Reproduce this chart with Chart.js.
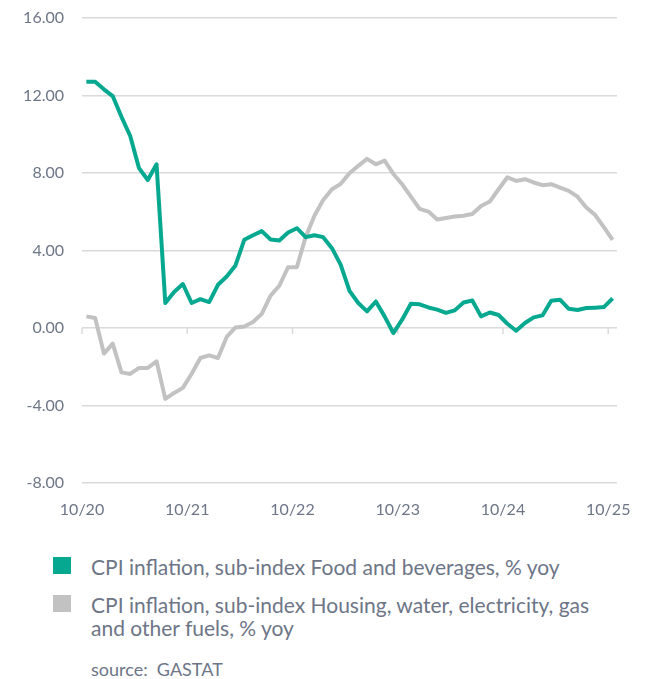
<!DOCTYPE html>
<html>
<head>
<meta charset="utf-8">
<script src="https://cdn.jsdelivr.net/npm/chart.js@4.4.1/dist/chart.umd.min.js"></script>
<style>
  body { margin: 0; background: #fff; font-family: Lato, "Open Sans", sans-serif; }
  #wrap { position: relative; width: 649px; height: 530px; }
  .legend { position: absolute; left: 0; top: 0; width: 649px; color: #6d7587; font-size: 21px; }
  .item { position: absolute; left: 91px; line-height: 23px; white-space: nowrap; }
  .box { position: absolute; left: -38px; top: 2px; width: 18px; height: 17px; }
  .source { position: absolute; left: 91px; top: 658px; font-size: 18px; color: #6d7587; }
</style>
</head>
<body>
<div id="wrap"><canvas id="chart"></canvas></div>
<div class="legend">
  <div class="item" style="top:555px"><span class="box" style="background:#06a990"></span>CPI inflation, sub-index Food and beverages, % yoy</div>
  <div class="item" style="top:593px"><span class="box" style="background:#c2c2c2"></span>CPI inflation, sub-index Housing, water, electricity, gas<br>and other fuels, % yoy</div>
</div>
<div class="source">source:&nbsp; GASTAT</div>
<script>
// monthly, 10/2020 .. 10/2025
var foodValues = [12.71, 12.71, 12.32, 11.97, 10.9, 9.91, 8.25, 7.64, 8.45, 1.29,
    1.86, 2.27, 1.29, 1.49, 1.34, 2.23, 2.66, 3.23, 4.55, 4.79,
    5.0, 4.57, 4.52, 4.93, 5.15, 4.69, 4.79, 4.69, 4.12, 3.26,
    1.92, 1.29, 0.86, 1.37, 0.6, -0.26, 0.43, 1.25, 1.22, 1.06,
    0.95, 0.78, 0.91, 1.32, 1.42, 0.6, 0.8, 0.67, 0.22, -0.14,
    0.26, 0.55, 0.65, 1.41, 1.46, 0.99, 0.93, 1.03, 1.05, 1.08, 1.53];
var housingValues = [0.6, 0.52, -1.32, -0.81, -2.29, -2.37, -2.06, -2.06, -1.72, -3.66,
    -3.35, -3.09, -2.36, -1.55, -1.41, -1.55, -0.46, 0.03, 0.08, 0.31,
    0.73, 1.67, 2.18, 3.14, 3.14, 4.69, 5.79, 6.61, 7.16, 7.44,
    7.99, 8.37, 8.73, 8.45, 8.64, 7.95, 7.42, 6.78, 6.15, 6.01,
    5.6, 5.68, 5.75, 5.79, 5.88, 6.3, 6.53, 7.16, 7.78, 7.59,
    7.68, 7.51, 7.37, 7.42, 7.25, 7.08, 6.78, 6.22, 5.84, 5.21, 4.55];
var tickLabels = ["10/20", "10/21", "10/22", "10/23", "10/24", "10/25"];
var yTicks = [-8, -4, 0, 4, 8, 12, 16];

var labelColor = "#6d7587";
var gridColor = "#dadada";

function toPoints(values) {
    // each month sits in the middle of its slot
    return values.map(function (v, i) { return { x: i + 0.5, y: v }; });
}

// small tick marks on the zero line
var zeroTicks = {
    id: "zeroTicks",
    beforeDatasetsDraw: function (chart) {
        var ctx = chart.ctx, xs = chart.scales.x, ys = chart.scales.y;
        var y0 = ys.getPixelForValue(0);
        ctx.save();
        ctx.strokeStyle = gridColor;
        ctx.lineWidth = 1.5;
        xs.ticks.forEach(function (t) {
            var px = xs.getPixelForValue(t.value);
            ctx.beginPath();
            ctx.moveTo(px, y0);
            ctx.lineTo(px, y0 + 6);
            ctx.stroke();
        });
        ctx.restore();
    }
};

var chart = new Chart(document.getElementById("chart"), {
    type: "line",
    data: {
        datasets: [{
            label: "CPI inflation, sub-index Food and beverages, % yoy",
            data: toPoints(foodValues),
            borderColor: "#06a990",
            borderWidth: 4,
            pointRadius: 0,
            tension: 0,
            borderJoinStyle: "round"
        }, {
            label: "CPI inflation, sub-index Housing, water, electricity, gas and other fuels, % yoy",
            data: toPoints(housingValues),
            borderColor: "#c2c2c2",
            borderWidth: 4,
            pointRadius: 0,
            tension: 0,
            borderJoinStyle: "round"
        }]
    },
    options: {
        animation: false,
        responsive: true,
        maintainAspectRatio: false,
        layout: { padding: { top: 18, right: 32, left: 0, bottom: 0 } },
        plugins: {
            legend: { display: false },
            tooltip: { enabled: false }
        },
        scales: {
            x: {
                type: "linear",
                min: 0,
                max: 61,
                grid: { display: false },
                border: { display: false },
                afterBuildTicks: function (scale) {
                    scale.ticks = tickLabels.map(function (l, i) { return { value: i * 12 }; });
                },
                afterFit: function (scale) { scale.height = 47; },
                ticks: {
                    padding: 9,
                    color: labelColor,
                    font: { family: "Lato", size: 16 },
                    maxRotation: 0,
                    autoSkip: false,
                    callback: function (v) { return tickLabels[v / 12]; }
                }
            },
            y: {
                min: -8,
                max: 16,
                afterBuildTicks: function (scale) {
                    scale.ticks = yTicks.map(function (v) { return { value: v }; });
                },
                afterFit: function (scale) {
                    scale.width = 82;
                    scale.paddingTop = 0;
                    scale.paddingBottom = 0;
                },
                grid: { color: gridColor, lineWidth: 1.5, drawTicks: false },
                border: { display: false },
                ticks: {
                    padding: 18,
                    color: labelColor,
                    font: { family: "Lato", size: 16 },
                    callback: function (v) { return v.toFixed(2); }
                }
            }
        }
    },
    plugins: [zeroTicks]
});
</script>
</body>
</html>
